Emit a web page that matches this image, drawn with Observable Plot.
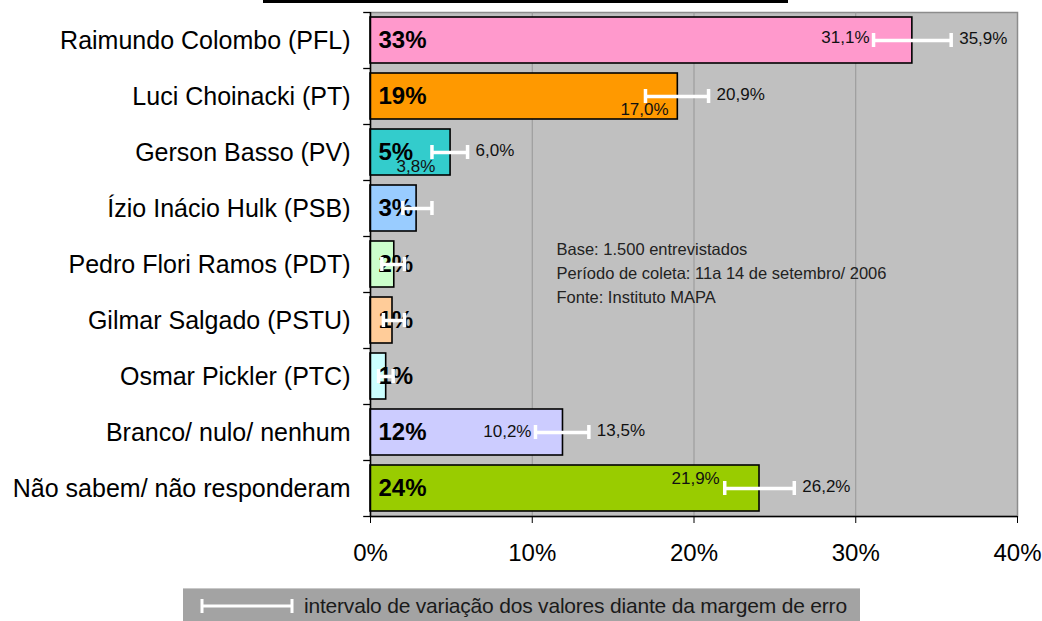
<!DOCTYPE html>
<html>
<head>
<meta charset="utf-8">
<script src="https://cdn.jsdelivr.net/npm/d3@7"></script>
<script src="https://cdn.jsdelivr.net/npm/@observablehq/plot@0.6"></script>
<style>
  html, body { margin: 0; padding: 0; background: #fff; }
  body { width: 1042px; height: 621px; position: relative; overflow: hidden; font-family: "Liberation Sans", Arial, sans-serif; }
  #titlebar { position: absolute; left: 263px; top: 0; width: 525px; height: 3px; background: #000; }
  #chart { position: absolute; left: 0; top: 0; }
  #legend { position: absolute; left: 183px; top: 588px; width: 677px; height: 33px; background: #a3a3a3; border-top: 1px solid #c8c8c8; display: flex; align-items: center; white-space: nowrap; }
  #legend svg { margin-left: 17px; flex: none; }
  #legend span { margin-left: 8px; font-size: 21px; color: #1a1a1a; letter-spacing: -0.2px; }
</style>
</head>
<body>
<div id="titlebar"></div>
<div id="chart"></div>
<div id="legend">
  <svg width="96" height="20"><line x1="2" y1="10" x2="92" y2="10" stroke="#fff" stroke-width="3"/><line x1="2" y1="3" x2="2" y2="17" stroke="#fff" stroke-width="3"/><line x1="92" y1="3" x2="92" y2="17" stroke="#fff" stroke-width="3"/></svg>
  <span>intervalo de variação dos valores diante da margem de erro</span>
</div>
<script>
const names = [
  "Raimundo Colombo (PFL)",
  "Luci Choinacki (PT)",
  "Gerson Basso (PV)",
  "Ízio Inácio Hulk (PSB)",
  "Pedro Flori Ramos (PDT)",
  "Gilmar Salgado (PSTU)",
  "Osmar Pickler (PTC)",
  "Branco/ nulo/ nenhum",
  "Não sabem/ não responderam"
];
const values = [33.5, 19.0, 4.95, 2.85, 1.47, 1.36, 0.97, 11.9, 24.05];
const valueLabels = ["33%", "19%", "5%", "3%", "2%", "1%", "1%", "12%", "24%"];
const lows = [31.1, 17.0, 3.8, 2.0, 0.7, 0.8, 0.5, 10.2, 21.9];
const highs = [35.9, 20.9, 6.0, 3.8, 2.1, 2.1, 1.4, 13.5, 26.2];
const lowLabels = ["31,1%", "17,0%", "3,8%", "", "", "", "", "10,2%", "21,9%"];
const highLabels = ["35,9%", "20,9%", "6,0%", "", "", "", "", "13,5%", "26,2%"];
const colors = ["#FF99CC", "#FF9900", "#33CCCC", "#99CCFF", "#CCFFCC", "#FFCC99", "#CCFFFF", "#CCCCFF", "#99CC00"];
const xTicks = [0, 10, 20, 30, 40];
const notes = ["Base: 1.500 entrevistados", "Período de coleta: 11a 14 de setembro/ 2006", "Fonte: Instituto MAPA"];

const data = names.map((name, i) => ({
  name, value: values[i], label: valueLabels[i],
  lo: lows[i], hi: highs[i], loLabel: lowLabels[i], hiLabel: highLabels[i]
}));

// placement of the lower-bound labels (style only)
const loPlace = {
  "Luci Choinacki (PT)": {dx: -1, dy: 13, anchor: "middle"},
  "Gerson Basso (PV)": {dx: -16, dy: 14, anchor: "middle"},
  "Não sabem/ não responderam": {dx: -5, dy: -10, anchor: "end"},
  "Branco/ nulo/ nenhum": {dx: -4, dy: -1, anchor: "end"}
};
const defPlace = {dx: -4, dy: -3, anchor: "end"};
const withLo = data.filter(d => d.loLabel);
const loGroups = d3.groups(withLo, d => JSON.stringify(loPlace[d.name] || defPlace));

const step = 56;
const plot = Plot.plot({
  width: 1042,
  height: 578,
  marginTop: 12,
  marginBottom: 62,
  marginLeft: 370,
  marginRight: 25,
  style: {fontFamily: "'Liberation Sans', Arial, sans-serif", fontSize: "24px", color: "#000", background: "transparent"},
  x: {domain: [0, 40], label: null},
  y: {domain: names, paddingInner: 0.18, paddingOuter: 0.09, label: null},
  color: {domain: names, range: colors},
  marks: [
    Plot.frame({fill: "#c0c0c0", stroke: "#8c8c8c", strokeWidth: 1.5}),
    Plot.ruleX([10, 20, 30], {stroke: "#969696", strokeWidth: 1}),
    Plot.barX(data, {x: "value", y: "name", fill: "name", stroke: "#000", strokeWidth: 1.6}),
    Plot.ruleX([0], {stroke: "#000", strokeWidth: 1.5}),
    Plot.ruleY([names[names.length - 1]], {dy: step / 2, stroke: "#000", strokeWidth: 1.5}),
    Plot.ruleY(names, {y: d => d, x1: -0.42, x2: 0, dy: -step / 2, stroke: "#000", strokeWidth: 1.3}),
    Plot.ruleY([names[names.length - 1]], {x1: -0.42, x2: 0, dy: step / 2, stroke: "#000", strokeWidth: 1.3}),
    Plot.axisX({ticks: xTicks, tickFormat: d => d + "%", tickSize: 7, tickPadding: 20, stroke: "#000", fill: "#000", fontSize: 24, label: null}),
    Plot.axisY({tickSize: 0, tickPadding: 20, fill: "#000", fontSize: 25, label: null}),
    Plot.text(data, {x: 0, y: "name", text: "label", dx: 8, textAnchor: "start", fontWeight: "bold", fontSize: 24, fill: "#000"}),
    Plot.ruleY(data, {y: "name", x1: "lo", x2: "hi", stroke: "#fff", strokeWidth: 3.5}),
    Plot.tickX(data, {x: "lo", y: "name", stroke: "#fff", strokeWidth: 3.5, insetTop: 16, insetBottom: 16}),
    Plot.tickX(data, {x: "hi", y: "name", stroke: "#fff", strokeWidth: 3.5, insetTop: 16, insetBottom: 16}),
    Plot.text(data.filter(d => d.hiLabel), {x: "hi", y: "name", text: "hiLabel", dx: 8, dy: -2, textAnchor: "start", fontSize: 17, fill: "#111"}),
    ...loGroups.map(([key, rows]) => {
      const p = JSON.parse(key);
      return Plot.text(rows, {x: "lo", y: "name", text: "loLabel", dx: p.dx, dy: p.dy, textAnchor: p.anchor, fontSize: 17, fill: "#111"});
    }),
    Plot.text([notes.join("\n")], {x: 11.5, y: () => names[4], dy: 7, text: d => d, textAnchor: "start", lineAnchor: "middle", lineHeight: 1.45, fontSize: 16.5, fill: "#222"})
  ]
});
document.getElementById("chart").appendChild(plot);
</script>
</body>
</html>
